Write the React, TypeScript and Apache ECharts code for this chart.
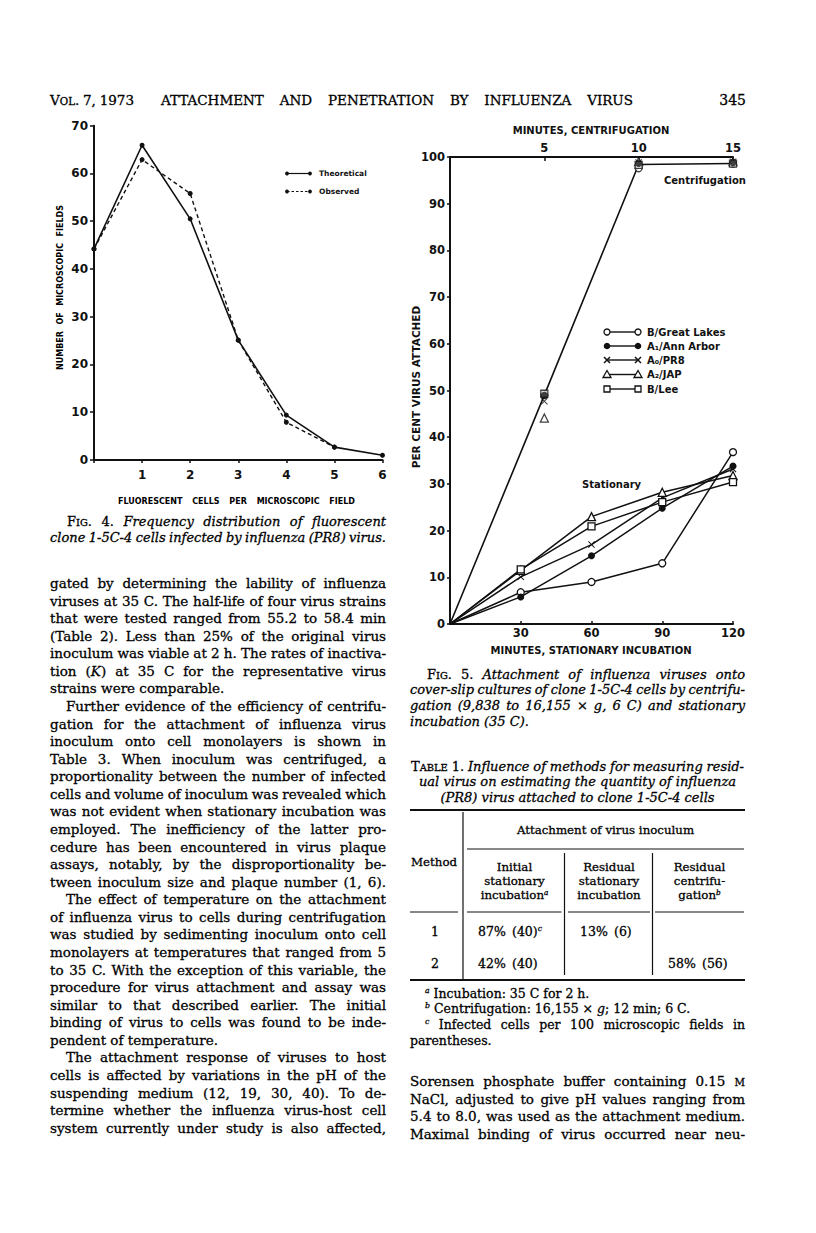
import React, { useEffect, useRef } from "react";
import * as echarts from "echarts";

const SERIF = '"DejaVu Serif"';
const SANS = '"DejaVu Sans"';

// ---------- Fig. 4 data ----------
const fig4Cells = [0, 1, 2, 3, 4, 5, 6];
const fig4Theoretical = [44.2, 65.9, 50.5, 25.1, 9.4, 2.7, 1.0];
const fig4Observed = [44.2, 62.9, 55.8, 25.1, 7.9, 2.7];

// ---------- Fig. 5 data ----------
const strainNames = ["B/Great Lakes", "A\u2081/Ann Arbor", "A\u2080/PR8", "A\u2082/JAP", "B/Lee"];
const stationaryMinutes = [0, 30, 60, 90, 120];
const statGreatLakes = [0, 6.8, 9.0, 13.0, 36.8];
const statAnnArbor = [0, 5.8, 14.6, 24.8, 33.8];
const statPR8 = [0, 10.1, 17.0, 27.0, 33.2];
const statJAP = [0, 11.5, 23.0, 28.2, 31.8];
const statLee = [0, 11.7, 20.9, 26.1, 30.4];

const centMinutes = [5, 10, 15];
const centGreatLakes = [49.0, 97.6, 98.6];
const centAnnArbor = [49.0, 98.6, 98.8];
const centPR8 = [47.7, 98.8, 99.0];
const centJAP = [44.1, 99.0, 99.0];
const centLee = [49.3, 98.3, 98.6];

const centCurveMinutes = [0, 5, 10, 15];
const centCurve = [0, 49.0, 98.4, 98.6];

// ---------- Table 1 ----------
const tableMethods = ["1", "2"];
const tableInitial = ["87%\u2002(40)^_c_^", "42%\u2002(40)"];
const tableResidualStationary = ["13%\u2002(6)", ""];
const tableResidualCentrifugation = ["", "58%\u2002(56)"];

// ---------- Texts ----------
const headerLeft = "~Vol.~ 7, 1973";
const headerTitle = "ATTACHMENT AND PENETRATION BY INFLUENZA VIRUS";
const headerPage = "345";

const fig4Caption = [
  ">~Fig.~ 4. _Frequency distribution of fluorescent_",
  "_clone 1-5C-4 cells infected by influenza (PR8) virus._",
];
const fig5Caption = [
  ">~Fig.~ 5. _Attachment of influenza viruses onto_",
  "_cover-slip cultures of clone 1-5C-4 cells by centrifu-_",
  "_gation (9,838 to 16,155_ \u00d7 _g, 6 C) and stationary_",
  "_incubation (35 C)._|",
];
const tableTitle = [
  "~Table~ 1. _Influence of methods for measuring resid-_",
  "_ual virus on estimating the quantity of influenza_",
  "_(PR8) virus attached to clone 1-5C-4 cells_",
];
const tableFootnotes = [
  ">^_a_^ Incubation: 35 C for 2 h.|",
  ">^_b_^ Centrifugation: 16,155 \u00d7 _g_; 12 min; 6 C.|",
  ">^_c_^ Infected cells per 100 microscopic fields in",
  "parentheses.|",
];

const leftColumnText = [
  "gated by determining the lability of influenza",
  "viruses at 35 C. The half-life of four virus strains",
  "that were tested ranged from 55.2 to 58.4 min",
  "(Table 2). Less than 25% of the original virus",
  "inoculum was viable at 2 h. The rates of inactiva-",
  "tion (_K_) at 35 C for the representative virus",
  "strains were comparable.|",
  ">Further evidence of the efficiency of centrifu-",
  "gation for the attachment of influenza virus",
  "inoculum onto cell monolayers is shown in",
  "Table 3. When inoculum was centrifuged, a",
  "proportionality between the number of infected",
  "cells and volume of inoculum was revealed which",
  "was not evident when stationary incubation was",
  "employed. The inefficiency of the latter pro-",
  "cedure has been encountered in virus plaque",
  "assays, notably, by the disproportionality be-",
  "tween inoculum size and plaque number (1, 6).",
  ">The effect of temperature on the attachment",
  "of influenza virus to cells during centrifugation",
  "was studied by sedimenting inoculum onto cell",
  "monolayers at temperatures that ranged from 5",
  "to 35 C. With the exception of this variable, the",
  "procedure for virus attachment and assay was",
  "similar to that described earlier. The initial",
  "binding of virus to cells was found to be inde-",
  "pendent of temperature.|",
  ">The attachment response of viruses to host",
  "cells is affected by variations in the pH of the",
  "suspending medium (12, 19, 30, 40). To de-",
  "termine whether the influenza virus-host cell",
  "system currently under study is also affected,",
];
const rightColumnText = [
  "Sorensen phosphate buffer containing 0.15 ~m~",
  "NaCl, adjusted to give pH values ranging from",
  "5.4 to 8.0, was used as the attachment medium.",
  "Maximal binding of virus occurred near neu-",
];

// ---------- text layout helpers ----------
type Run = { t: string; size: number; italic: boolean; bold: boolean; dy: number };
let _ctx: CanvasRenderingContext2D | null = null;
function measure(t: string, size: number, family: string, italic: boolean, bold: boolean) {
  if (!_ctx) _ctx = document.createElement("canvas").getContext("2d");
  _ctx!.font = `${italic ? "italic " : ""}${bold ? "bold " : ""}${size}px ${family}`;
  return _ctx!.measureText(t).width;
}
function parseWords(src: string, size: number, italic0: boolean, bold: boolean): Run[][] {
  const words: Run[][] = [];
  let cur: Run[] = [];
  let italic = italic0, sc = false, sup = false;
  for (const ch0 of src) {
    if (ch0 === "_") { italic = !italic; continue; }
    if (ch0 === "~") { sc = !sc; continue; }
    if (ch0 === "^") { sup = !sup; continue; }
    if (ch0 === " ") { if (cur.length) { words.push(cur); cur = []; } continue; }
    let s = size, dy = 0, c = ch0;
    if (sup) { s = size * 0.62; dy = -size * 0.36; }
    if (sc && c !== c.toUpperCase()) { c = c.toUpperCase(); s = s * 0.76; }
    const last = cur[cur.length - 1];
    if (last && last.size === s && last.italic === italic && last.dy === dy) last.t += c;
    else cur.push({ t: c, size: s, italic, bold, dy });
  }
  if (cur.length) words.push(cur);
  return words;
}
type LineOpts = {
  x0: number; x1: number; y: number; size: number; family?: string;
  align?: "justify" | "left" | "center" | "right"; italic?: boolean; bold?: boolean;
};
function lineElements(src: string, o: LineOpts): any[] {
  const family = o.family ?? SERIF;
  const words = parseWords(src, o.size, !!o.italic, !!o.bold);
  const runW = (r: Run) => measure(r.t, r.size, family, r.italic, r.bold);
  const widths = words.map((w) => w.reduce((a, r) => a + runW(r), 0));
  const total = widths.reduce((a, b) => a + b, 0);
  const n = words.length;
  let gap = measure(" ", o.size, family, !!o.italic, !!o.bold);
  let x = o.x0;
  const align = o.align ?? "left";
  if (align === "justify" && n > 1) gap = (o.x1 - o.x0 - total) / (n - 1);
  else if (align === "center") x = (o.x0 + o.x1) / 2 - (total + gap * (n - 1)) / 2;
  else if (align === "right") x = o.x1 - (total + gap * (n - 1));
  const serif = family === SERIF;
  const out: any[] = [];
  words.forEach((w, i) => {
    let rx = x;
    w.forEach((r) => {
      out.push({
        type: "text", x: rx, y: o.y + 0.35 * (o.size - r.size) + r.dy, silent: true,
        style: {
          text: r.t, fill: "#000", fontSize: r.size, fontFamily: family,
          fontStyle: r.italic ? "italic" : "normal", fontWeight: r.bold ? "bold" : "normal",
          stroke: serif ? "#000" : undefined, lineWidth: serif ? 0.3 : 0,
          align: "left", verticalAlign: "middle", textAlign: "left", textVerticalAlign: "middle",
        },
      });
      rx += runW(r);
    });
    x += widths[i] + gap;
  });
  return out;
}
function fitSize(lines: string[], width: number, indent: number, maxSize: number, italic: boolean) {
  let s = maxSize;
  for (const raw of lines) {
    const src = raw.replace(/^>/, "").replace(/\|$/, "");
    const words = parseWords(src, 10, italic, false);
    const w = words.reduce((a, wd) => a + wd.reduce((b, r) => b + measure(r.t, r.size, SERIF, r.italic, r.bold), 0), 0)
      + (words.length - 1) * 2.3;
    const avail = width - (raw.startsWith(">") ? indent : 0);
    s = Math.min(s, (10 * avail) / w);
  }
  return s;
}
function paragraph(lines: string[], x0: number, x1: number, y0: number, dy: number, size: number, indent: number): any[] {
  const out: any[] = [];
  lines.forEach((raw, i) => {
    const ind = raw.startsWith(">");
    const last = raw.endsWith("|");
    const src = raw.replace(/^>/, "").replace(/\|$/, "");
    out.push(...lineElements(src, { x0: x0 + (ind ? indent : 0), x1, y: y0 + i * dy, size, align: last ? "left" : "justify" }));
  });
  return out;
}
function gline(x1: number, y1: number, x2: number, y2: number, w: number, dash?: number[]) {
  return { type: "line", silent: true, shape: { x1, y1, x2, y2 }, style: { stroke: "#111", lineWidth: w, lineDash: dash } };
}
function gtext(t: string, x: number, y: number, size: number, align: string, extra: any = {}) {
  return {
    type: "text", x, y, silent: true, ...extra,
    style: {
      text: t, fill: "#111", fontSize: size, fontFamily: SANS, fontWeight: "bold",
      align, verticalAlign: "middle", textAlign: align, textVerticalAlign: "middle",
    },
  };
}
const CROSS = "path://M0,1L1,0L5,4L9,0L10,1L6,5L10,9L9,10L5,6L1,10L0,9L4,5Z";
const markerKinds = ["open", "filled", "cross", "triangle", "square"];
function markerGraphic(kind: string, cx: number, cy: number): any[] {
  const st = { fill: "#fff", stroke: "#111", lineWidth: 1.3 };
  if (kind === "open") return [{ type: "circle", silent: true, shape: { cx, cy, r: 3 }, style: st }];
  if (kind === "filled") return [{ type: "circle", silent: true, shape: { cx, cy, r: 3.3 }, style: { fill: "#111" } }];
  if (kind === "cross") return [gline(cx - 3, cy - 3, cx + 3, cy + 3, 1.5), gline(cx - 3, cy + 3, cx + 3, cy - 3, 1.5)];
  if (kind === "triangle") return [{ type: "polygon", silent: true, shape: { points: [[cx, cy - 4], [cx + 4, cy + 3], [cx - 4, cy + 3]] }, style: st }];
  return [{ type: "rect", silent: true, shape: { x: cx - 3, y: cy - 3, width: 6, height: 6 }, style: st }];
}
function seriesSymbol(kind: string) {
  const open = { color: "#fff", borderColor: "#111", borderWidth: 1.3 };
  if (kind === "open") return { symbol: "circle", symbolSize: 7, itemStyle: open };
  if (kind === "filled") return { symbol: "circle", symbolSize: 7, itemStyle: { color: "#111" } };
  if (kind === "cross") return { symbol: CROSS, symbolSize: 7, itemStyle: { color: "#111" } };
  if (kind === "triangle") return { symbol: "triangle", symbolSize: 8, itemStyle: open };
  return { symbol: "rect", symbolSize: 7, itemStyle: open };
}

function buildOption(): any {
  const g: any[] = [];
  // header
  g.push(...lineElements(headerLeft, { x0: 50, x1: 134, y: 100, size: 13.5, align: "justify" }));
  g.push(...lineElements(headerTitle, { x0: 161, x1: 633, y: 100, size: 13.5, align: "justify" }));
  g.push(...lineElements(headerPage, { x0: 700, x1: 746, y: 100, size: 14, align: "right" }));

  // Fig 4 texts
  g.push(...lineElements("FLUORESCENT CELLS PER MICROSCOPIC FIELD", { x0: 118, x1: 355, y: 501, size: 8, family: SANS, bold: true, align: "justify" }));
  g.push({
    type: "group", x: 60, y: 370, rotation: Math.PI / 2,
    children: lineElements("NUMBER OF MICROSCOPIC FIELDS", { x0: 0, x1: 165, y: 0, size: 8, family: SANS, bold: true, align: "justify" }),
  });
  [["Theoretical", 173.5, undefined], ["Observed", 191.5, [2.5, 2]]].forEach(([name, y, dash]: any) => {
    g.push(gline(287, y, 310, y, 1.2, dash));
    g.push({ type: "circle", silent: true, shape: { cx: 287, cy: y, r: 1.9 }, style: { fill: "#111" } });
    g.push({ type: "circle", silent: true, shape: { cx: 310, cy: y, r: 1.9 }, style: { fill: "#111" } });
    g.push(gtext(name, 319, y, 7.5, "left"));
  });

  // Fig 5 texts
  g.push(gtext("MINUTES, CENTRIFUGATION", 591, 130, 10, "center"));
  g.push(gtext("MINUTES, STATIONARY INCUBATION", 591, 650, 10, "center"));
  g.push(gtext("PER CENT VIRUS ATTACHED", 416, 387, 10.5, "center", { rotation: Math.PI / 2 }));
  g.push(gtext("Centrifugation", 664, 180, 10, "left"));
  g.push(gtext("Stationary", 582, 484, 10, "left"));
  const legendY = [332, 346, 360, 374.5, 389];
  strainNames.forEach((nm, i) => {
    const y = legendY[i];
    g.push(gline(607, y, 638, y, 1.4));
    g.push(...markerGraphic(markerKinds[i], 607, y));
    g.push(...markerGraphic(markerKinds[i], 638, y));
    g.push(gtext(nm, 647, y, 10, "left"));
  });

  // captions
  const capSize4 = fitSize(fig4Caption, 336, 17, 13, true);
  g.push(...paragraph(fig4Caption, 50, 386, 521, 16, capSize4, 17));
  const capSize5 = fitSize(fig5Caption, 335, 17, 13, true);
  g.push(...paragraph(fig5Caption, 410, 745, 674, 15.9, capSize5, 17));

  // table title
  const ttSize = fitSize([tableTitle[0]], 335, 0, 13, true);
  g.push(...lineElements(tableTitle[0], { x0: 411, x1: 744, y: 766, size: ttSize, align: "justify" }));
  g.push(...lineElements(tableTitle[1], { x0: 410, x1: 745, y: 781.5, size: ttSize, align: "center" }));
  g.push(...lineElements(tableTitle[2], { x0: 410, x1: 745, y: 797, size: ttSize, align: "center" }));

  // table
  g.push(gline(410, 810, 745, 810, 2));
  g.push(gline(410, 980, 745, 980, 2));
  g.push(gline(463, 812, 463, 979, 1.2));
  g.push(gline(467, 849, 744, 849, 1));
  g.push(gline(564.5, 853, 564.5, 975, 1.2));
  g.push(gline(652.5, 853, 652.5, 975, 1.2));
  [[410, 458], [467, 561.5], [568, 650], [655, 744]].forEach(([a, b]) => g.push(gline(a, 912, b, 912, 1)));
  const TS = 11.8;
  g.push(...lineElements("Attachment of virus inoculum", { x0: 467, x1: 744, y: 830, size: TS, align: "center" }));
  g.push(...lineElements("Method", { x0: 411, x1: 460, y: 862, size: TS, align: "left" }));
  const headCols: [number, number, string[]][] = [
    [467, 562, ["Initial", "stationary", "incubation^_a_^"]],
    [567, 651, ["Residual", "stationary", "incubation"]],
    [654, 745, ["Residual", "centrifu-", "gation^_b_^"]],
  ];
  headCols.forEach(([a, b, ls]) => ls.forEach((l, i) =>
    g.push(...lineElements(l, { x0: a, x1: b, y: 867 + i * 14.2, size: TS, align: "center" }))));
  const RS = 12.5;
  tableMethods.forEach((m, i) => {
    const y = 931 + i * 32;
    g.push(...lineElements(m, { x0: 410, x1: 460, y, size: RS, align: "center" }));
    if (tableInitial[i]) g.push(...lineElements(tableInitial[i], { x0: 478, x1: 562, y, size: RS }));
    if (tableResidualStationary[i]) g.push(...lineElements(tableResidualStationary[i], { x0: 580, x1: 650, y, size: RS }));
    if (tableResidualCentrifugation[i]) g.push(...lineElements(tableResidualCentrifugation[i], { x0: 668, x1: 745, y, size: RS }));
  });
  g.push(...paragraph(tableFootnotes, 410, 745, 993, 15.7, 12.5, 15));

  // body text
  const bodySize = fitSize([...leftColumnText, ...rightColumnText], 335, 16, 13.5, false);
  g.push(...paragraph(leftColumnText, 50, 386, 583, 17.57, bodySize, 16));
  g.push(...paragraph(rightColumnText, 410, 745, 1081, 17.6, bodySize, 16));

  const axisLineStyle = { color: "#111", width: 2 };
  const tickLbl = (size: number, margin: number) => ({
    color: "#111", fontFamily: SANS, fontWeight: "bold", fontSize: size, margin,
    formatter: (v: number) => (v === 0 ? "" : String(v)),
  });
  const yLbl = (size: number, margin: number) => ({
    color: "#111", fontFamily: SANS, fontWeight: "bold", fontSize: size, margin,
  });

  const pairs = (xs: number[], ys: number[]) => ys.map((v, i) => [xs[i], v]);
  const statSeries = [statGreatLakes, statAnnArbor, statPR8, statJAP, statLee];
  const centSeries = [centGreatLakes, centAnnArbor, centPR8, centJAP, centLee];

  const series: any[] = [
    {
      type: "line", name: "Theoretical", xAxisIndex: 0, yAxisIndex: 0,
      data: pairs(fig4Cells, fig4Theoretical), symbol: "circle", symbolSize: 5,
      itemStyle: { color: "#111" }, lineStyle: { color: "#111", width: 1.6 }, z: 3,
    },
    {
      type: "line", name: "Observed", xAxisIndex: 0, yAxisIndex: 0,
      data: pairs(fig4Cells, fig4Observed), symbol: "circle", symbolSize: 5,
      itemStyle: { color: "#111" }, lineStyle: { color: "#111", width: 1.4, type: [4, 3] }, z: 3,
    },
    {
      type: "line", name: "Centrifugation", xAxisIndex: 2, yAxisIndex: 1,
      data: pairs(centCurveMinutes, centCurve), symbol: "none",
      lineStyle: { color: "#111", width: 1.6 }, z: 2,
    },
  ];
  strainNames.forEach((nm, i) => {
    const sym = seriesSymbol(markerKinds[i]);
    series.push({
      type: "line", name: nm + " stationary", xAxisIndex: 1, yAxisIndex: 1,
      data: statSeries[i].map((v, j) => (stationaryMinutes[j] === 0 ? { value: [0, v], symbol: "none" } : [stationaryMinutes[j], v])),
      ...sym, lineStyle: { color: "#111", width: 1.5 }, z: 3,
    });
  });
  // centrifugation markers: filled circles drawn last (on top), as in the figure
  [0, 2, 3, 4, 1].forEach((i) => {
    const sym = seriesSymbol(markerKinds[i]);
    series.push({
      type: "scatter", name: strainNames[i] + " centrifugation", xAxisIndex: 2, yAxisIndex: 1,
      data: pairs(centMinutes, centSeries[i]), ...sym, z: 4 + (i === 1 ? 1 : 0),
    });
  });

  return {
    animation: false,
    backgroundColor: "#fff",
    grid: [
      { left: 94, top: 125.7, width: 288.5, height: 334.3 },
      { left: 450, top: 157, width: 283, height: 467 },
    ],
    xAxis: [
      {
        gridIndex: 0, type: "value", min: 0, max: 6, interval: 1,
        axisLine: { show: true, onZero: false, lineStyle: axisLineStyle },
        axisTick: { show: true, inside: false, length: 3, lineStyle: { color: "#111", width: 1.5 } },
        axisLabel: tickLbl(12, 9), splitLine: { show: false },
      },
      {
        gridIndex: 1, type: "value", min: 0, max: 120, interval: 30, position: "bottom",
        axisLine: { show: true, onZero: false, lineStyle: axisLineStyle },
        axisTick: { show: true, inside: true, length: 3, lineStyle: { color: "#111", width: 1.5 } },
        axisLabel: tickLbl(11.5, 3), splitLine: { show: false },
      },
      {
        gridIndex: 1, type: "value", min: 0, max: 15, interval: 5, position: "top",
        axisLine: { show: true, onZero: false, lineStyle: axisLineStyle },
        axisTick: { show: true, inside: true, length: 4, lineStyle: { color: "#111", width: 1.5 } },
        axisLabel: tickLbl(11.5, 3), splitLine: { show: false },
      },
    ],
    yAxis: [
      {
        gridIndex: 0, type: "value", min: 0, max: 70, interval: 10,
        axisLine: { show: true, onZero: false, lineStyle: axisLineStyle },
        axisTick: { show: true, inside: false, length: 4, lineStyle: { color: "#111", width: 1.5 } },
        axisLabel: yLbl(12, 6), splitLine: { show: false },
      },
      {
        gridIndex: 1, type: "value", min: 0, max: 100, interval: 10,
        axisLine: { show: true, onZero: false, lineStyle: axisLineStyle },
        axisTick: { show: true, inside: false, length: 3, lineStyle: { color: "#111", width: 1.5 } },
        axisLabel: yLbl(11.5, 5), splitLine: { show: false },
      },
    ],
    series,
    graphic: { elements: g },
  };
}

export default function App() {
  const ref = useRef<HTMLDivElement>(null);
  useEffect(() => {
    const chart = echarts.init(ref.current!, null, { renderer: "svg" });
    chart.setOption(buildOption());
    return () => chart.dispose();
  }, []);
  return (
    <div
      ref={ref}
      style={{ position: "absolute", left: 0, top: 0, width: 816, height: 1233, background: "#fff" }}
    />
  );
}
